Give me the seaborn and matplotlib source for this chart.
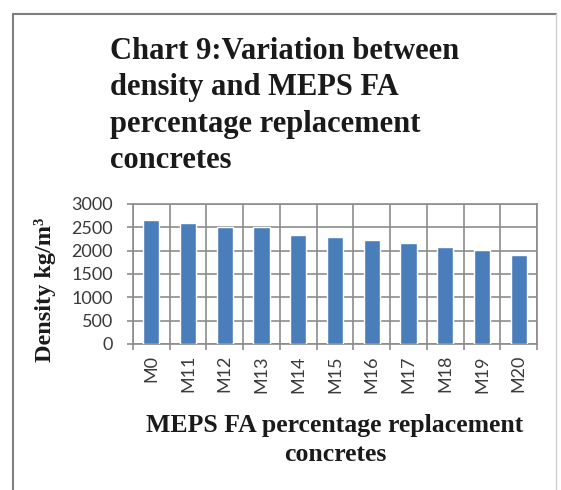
import matplotlib
matplotlib.use("Agg")
import matplotlib.pyplot as plt
from matplotlib.lines import Line2D
from matplotlib.ticker import FixedLocator, MultipleLocator
import numpy as np
import pandas as pd
import seaborn as sns

# Mix designs and their measured densities (kg/m3)
mixes = ["M0", "M11", "M12", "M13", "M14", "M15", "M16", "M17", "M18", "M19", "M20"]
density = [2650, 2600, 2510, 2510, 2340, 2300, 2220, 2160, 2070, 2015, 1910]

df = pd.DataFrame({"mix": mixes, "density": density})

sns.set_theme(style="white")
plt.rcParams["font.family"] = ["Lato", "DejaVu Sans"]

W, H = 561, 490
fig = plt.figure(figsize=(W / 100, H / 100), dpi=100)
ax_l, ax_r, ax_t, ax_b = 133, 537, 204, 344
ax = fig.add_axes([ax_l / W, 1 - ax_b / H, (ax_r - ax_l) / W, (ax_b - ax_t) / H])

sns.barplot(data=df, x="mix", y="density", color="#4a7ebb", width=0.44,
            saturation=1, ax=ax, zorder=3)

grid_col = "#8c8c8c"
ax.set_ylim(0, 3000)
ax.set_xlim(-0.5, len(mixes) - 0.5)
ax.yaxis.set_major_locator(MultipleLocator(500))
ax.xaxis.set_minor_locator(FixedLocator(np.arange(-0.5, len(mixes), 1.0)))
ax.grid(axis="y", which="major", color=grid_col, lw=1.2, zorder=0)
ax.grid(axis="x", which="minor", color=grid_col, lw=1.2, zorder=0)
ax.grid(axis="x", which="major", visible=False)
for s in ax.spines.values():
    s.set_color(grid_col)
    s.set_linewidth(1.2)

ax.tick_params(axis="y", which="major", left=True, length=4.5, width=1.2,
               color=grid_col, labelsize=13, pad=10)
ax.tick_params(axis="x", which="major", bottom=False, length=0, labelsize=13,
               rotation=90, pad=8)
ax.tick_params(axis="x", which="minor", bottom=True, length=4, width=1.2,
               color=grid_col)
for lab in ax.get_yticklabels() + ax.get_xticklabels():
    lab.set_color("#3a3a3a")

serif = ["Liberation Serif", "DejaVu Serif"]
ax.set_xlabel("MEPS FA percentage replacement\nconcretes", fontfamily=serif,
              fontweight="bold", fontsize=18.5, linespacing=1.35,
              color="#1a1a1a")
ax.xaxis.label.set_va("top")
ax.xaxis.set_label_coords(((ax_l + ax_r) / 2 - ax_l) / (ax_r - ax_l),
                          (ax_b - 414) / (ax_b - ax_t))
ax.set_ylabel("Density kg/m\u00b3", fontfamily=serif, fontweight="bold",
              fontsize=17.5, color="#1a1a1a")
ax.yaxis.label.set_va("center")
ax.yaxis.set_label_coords((45 - ax_l) / (ax_r - ax_l), (ax_b - 290) / (ax_b - ax_t))

fig.text(110 / W, 1 - 37 / H,
         "Chart 9:Variation between\ndensity and MEPS FA\npercentage replacement\nconcretes",
         ha="left", va="top", fontfamily=serif, fontweight="bold",
         fontsize=22, linespacing=1.33, color="#1a1a1a")

# Chart-area frame
fc = "#7f7f7f"
fig.add_artist(Line2D([13 / W, 556 / W], [1 - 14 / H, 1 - 14 / H], color=fc, lw=1.5))
fig.add_artist(Line2D([13 / W, 13 / W], [0, 1 - 14 / H], color=fc, lw=1.5))
fig.add_artist(Line2D([556 / W, 556 / W], [0, 1 - 14 / H], color="#d0d0d0", lw=1.0))

fig.savefig("out.png", dpi=100)
